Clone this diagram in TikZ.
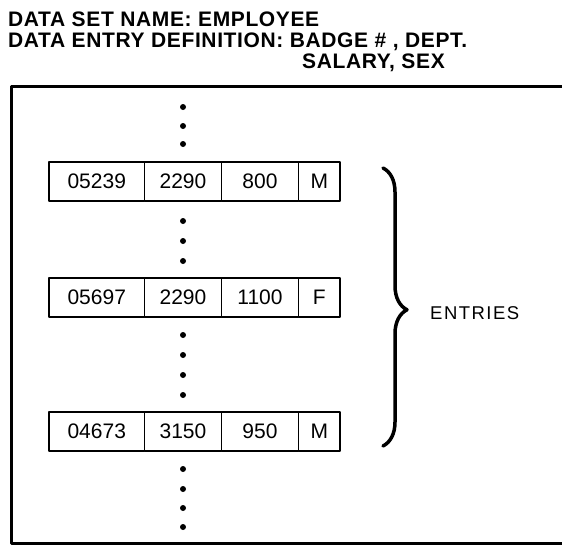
\documentclass[tikz,border=0pt]{standalone}
\usepackage{fontspec}
\setmainfont{Liberation Sans}
\usetikzlibrary{decorations.pathreplacing}
\begin{document}
\begin{tikzpicture}[x=1pt,y=-1pt,line cap=round,line join=round,
  field/.style={draw,line width=1.8pt,minimum height=39pt,inner sep=0pt,font=\fontsize{21}{21}\selectfont},
  title/.style={anchor=base west,inner sep=0pt,font=\fontsize{21}{21}\selectfont\bfseries\addfontfeatures{LetterSpace=3}}]
  \useasboundingbox (0,0) rectangle (562,544);
  % header
  \node[title] (setname) at (8,26) {DATA SET NAME: EMPLOYEE};
  \node[title] (entrydef) at (8,47) {DATA ENTRY DEFINITION: BADGE \# , DEPT.};
  \node[title] (entrydef2) at (302,68) {SALARY, SEX};
  % frame
  \draw[line width=3pt] (570,86) -- (11,86) -- (11,543) -- (570,543);
  % entries
  \foreach \r/\y/\a/\b/\c/\d in {1/181.3/05239/2290/800/M,2/297.5/05697/2290/1100/F,3/431.5/04673/3150/950/M} {
    \node[field,minimum width=95.5pt] (badge\r) at (96.75,\y) {\a};
    \node[field,minimum width=77pt] (dept\r) at (183,\y) {\b};
    \node[field,minimum width=77pt] (salary\r) at (260,\y) {\c};
    \node[field,minimum width=41.5pt] (sex\r) at (319.25,\y) {\d};
  }
  \foreach \y in {107,126,144,221,241,261,335,355,375,395,469,489,508,527}
    \fill (183,\y) circle (3);
  % brace
  \coordinate (bracetop) at (383,168);
  \coordinate (bracebot) at (383,446);
  \draw[line width=3.5pt,decorate,decoration={brace,amplitude=24pt,aspect=0.51}] (bracetop) -- (bracebot);
  \node[anchor=west,inner sep=0pt,font=\fontsize{18.5}{18.5}\selectfont\addfontfeatures{LetterSpace=8}] (entries) at (430,313) {ENTRIES};
\end{tikzpicture}
\end{document}
